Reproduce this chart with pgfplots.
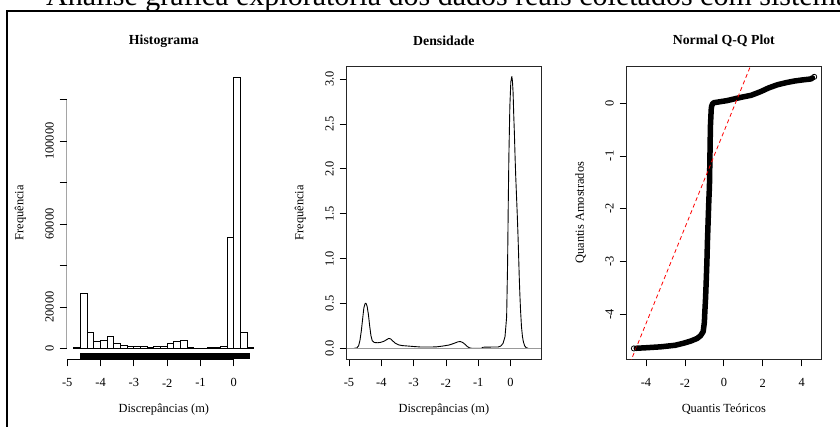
\documentclass[border=0pt]{standalone}
\usepackage{fontspec}
\setmainfont{Liberation Serif}
\usepackage{pgfplots}
\pgfplotsset{compat=1.18}
\pgfplotsset{
 rstyle/.style={
  scale only axis, width=194.3bp, height=293.3bp, anchor=south west,
  font=\fontsize{12.4bp}{14bp}\selectfont,
  tick align=outside, major tick length=7.2bp,
  xtick pos=left, ytick pos=left,
  scaled ticks=false,
  tick style={black, line width=0.8bp},
  axis line style={line width=0.8bp, black!85},
  xticklabel style={anchor=center, inner sep=0pt, yshift=-16.4bp},
  yticklabel style={xshift=-10bp, rotate=90, anchor=center, inner sep=0pt},
  title style={at={(axis description cs:0.5,1.065)}, anchor=center, inner sep=0pt, font=\fontsize{13.8bp}{16bp}\selectfont\bfseries},
  xlabel style={at={(axis description cs:0.5,-0.1695)}, anchor=center, inner sep=0pt},
  ylabel style={at={(axis description cs:-0.2380,0.5)}, anchor=center, inner sep=0pt},
 }
}
\begin{document}
\begin{tikzpicture}
\useasboundingbox (0bp,0bp) rectangle (840bp,427bp);
\clip (0bp,0bp) rectangle (840bp,427bp);
\node[anchor=base west, inner sep=0, font=\fontsize{30bp}{32bp}\selectfont] at (46bp,421bp) {Análise gráfica exploratória dos dados reais coletados com sistema GNSS};
\draw[line width=1.6bp] (6.8bp,-20bp) -- (6.8bp,415.8bp) -- (860bp,415.8bp);

% ---------------- Histograma
\begin{axis}[rstyle, at={(66.7bp,67.7bp)},
  xmin=-5.016, xmax=0.816, ymin=-5240, ymax=136240,
  axis line style={draw=none},
  xtick={-5,-4,-3,-2,-1,0}, xticklabels={-5,-4,-3,-2,-1,0},
  ytick={0,20000,40000,60000,80000,100000,120000},
  yticklabels={0,20000,,60000,,100000,},
  title={Histograma}, xlabel={Discrepâncias (m)}, ylabel={Frequência}]
\addplot[ybar interval, fill=white, draw=black, line width=0.8bp] coordinates {
(-4.8,300) (-4.6,26560) (-4.4,7730) (-4.2,3540) (-4.0,4030) (-3.8,5960)
(-3.6,2400) (-3.4,1600) (-3.2,970) (-3.0,970) (-2.8,970) (-2.6,480)
(-2.4,970) (-2.2,970) (-2.0,2250) (-1.8,3540) (-1.6,3860) (-1.4,640)
(-1.2,0) (-1.0,0) (-0.8,640) (-0.6,640) (-0.4,970) (-0.2,53400)
(0.0,130900) (0.2,7500) (0.4,300) (0.6,0)};
\addplot[fill=black, draw=none] coordinates {(-4.63,-5240) (0.5,-5240) (0.5,-2200) (-4.63,-2200)} --cycle;
\draw[line width=0.8bp] (axis cs:-5,-5240) -- (axis cs:0,-5240);
\draw[line width=0.8bp] (axis cs:-5.016,0) -- (axis cs:-5.016,120000);
\end{axis}

% ---------------- Densidade
\begin{axis}[rstyle, at={(346.7bp,67.7bp)},
  xmin=-5.071, xmax=0.944, ymin=-0.1226, ymax=3.147,
  xtick={-5,-4,-3,-2,-1,0}, xticklabels={-5,-4,-3,-2,-1,0},
  ytick={0,0.5,1,1.5,2,2.5,3},
  yticklabels={0.0,0.5,1.0,1.5,2.0,2.5,3.0},
  title={Densidade}, xlabel={Discrepâncias (m)}, ylabel={Frequência}]
\addplot[black, line width=0.9bp, line join=round] coordinates {
(-4.85,0) (-4.76,0.003) (-4.70,0.03) (-4.66,0.09) (-4.62,0.19) (-4.58,0.32)
(-4.54,0.45) (-4.50,0.50) (-4.47,0.50) (-4.44,0.47) (-4.40,0.38) (-4.36,0.25)
(-4.32,0.14) (-4.28,0.085) (-4.22,0.065) (-4.12,0.062) (-4.02,0.066) (-3.92,0.078)
(-3.84,0.095) (-3.77,0.11) (-3.71,0.105) (-3.64,0.08) (-3.56,0.055) (-3.46,0.038)
(-3.35,0.03) (-3.2,0.026) (-3.0,0.02) (-2.8,0.015) (-2.5,0.014) (-2.3,0.016)
(-2.1,0.025) (-1.9,0.037) (-1.75,0.055) (-1.62,0.073) (-1.55,0.075) (-1.48,0.065)
(-1.41,0.045) (-1.34,0.02) (-1.27,0.005) (-1.2,0) (-0.9,0) (-0.85,0.012)
(-0.6,0.014) (-0.38,0.015) (-0.3,0.025) (-0.23,0.056) (-0.17,0.13) (-0.12,0.35)
(-0.09,0.95) (-0.07,1.6) (-0.05,2.15) (-0.02,2.7) (0.01,2.97) (0.04,3.03)
(0.06,2.98) (0.08,2.85) (0.10,2.6) (0.12,2.4) (0.14,2.15) (0.16,1.93)
(0.18,1.75) (0.21,1.48) (0.23,1.28) (0.25,1.05) (0.27,0.8) (0.29,0.6)
(0.31,0.43) (0.34,0.24) (0.37,0.13) (0.40,0.07) (0.44,0.025) (0.49,0.006) (0.55,0)};
\addplot[black!40, line width=0.5bp] coordinates {(-5.071,0) (0.944,0)};
\end{axis}

% ---------------- Normal Q-Q Plot
\begin{axis}[rstyle, at={(626.7bp,67.7bp)},
  xmin=-4.99, xmax=4.99, ymin=-4.856, ymax=0.706,
  xtick={-4,-2,0,2,4}, xticklabels={-4,-2,0,2,4},
  ytick={-4,-3,-2,-1,0}, yticklabels={-4,-3,-2,-1,0},
  title={Normal Q-Q Plot}, xlabel={Quantis Teóricos}, ylabel={Quantis Amostrados}]
\addplot[black, line width=5.5bp, line join=round, line cap=round] coordinates {
(-4.5,-4.647) (-4.0,-4.637) (-3.26,-4.62) (-2.5,-4.59) (-2.06,-4.55) (-1.7,-4.51)
(-1.37,-4.46) (-1.2,-4.41) (-1.06,-4.33) (-1.0,-4.15) (-0.98,-3.98) (-0.94,-3.7)
(-0.91,-3.42) (-0.87,-3.0) (-0.84,-2.59) (-0.77,-1.83) (-0.74,-1.58) (-0.69,-0.44)
(-0.65,-0.12) (-0.63,-0.06) (-0.58,-0.01) (-0.51,0.01) (0.17,0.05) (0.86,0.11)
(1.4,0.15) (1.89,0.22) (2.3,0.29) (2.75,0.35) (3.2,0.39) (3.61,0.42) (4.0,0.44)
(4.47,0.46) (4.55,0.48)};
\addplot[only marks, mark=o, mark size=2.6bp, mark options={line width=0.8bp, fill=white}] coordinates {(-4.62,-4.65) (4.64,0.50)};
\addplot[red, line width=0.8bp, dash pattern=on 4bp off 3bp] coordinates {(-5.5,-5.545) (5.5,4.465)};
\end{axis}
\end{tikzpicture}
\end{document}
